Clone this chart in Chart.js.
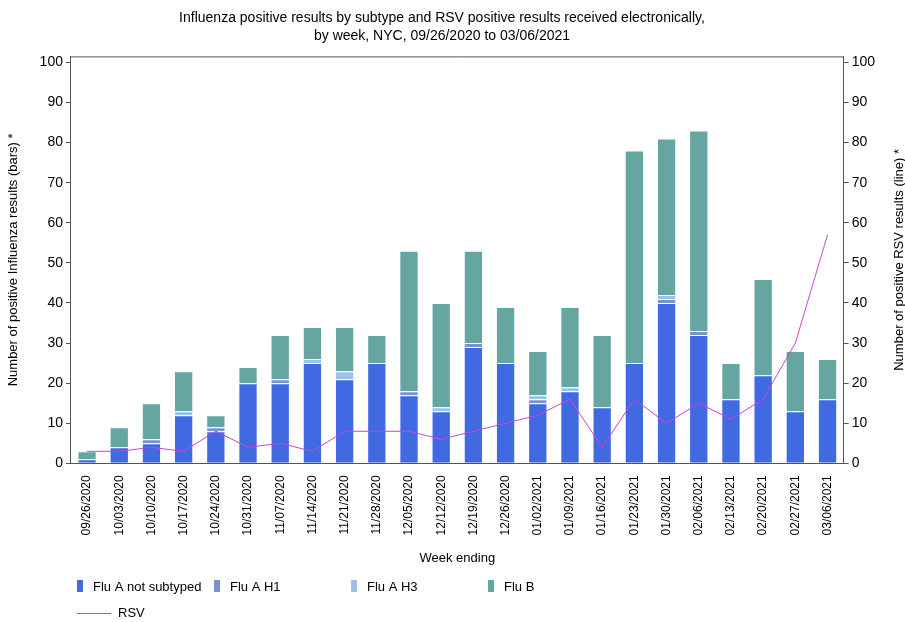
<!DOCTYPE html>
<html>
<head>
<meta charset="utf-8">
<script src="https://cdn.jsdelivr.net/npm/chart.js@4.4.1/dist/chart.umd.min.js"></script>
<style>
  html, body { margin: 0; padding: 0; background: #fff; }
  #wrap { position: relative; width: 905px; height: 622px; }
</style>
</head>
<body>
<div id="wrap"><canvas id="c"></canvas></div>
<script>
const weeks = ['09/26/2020','10/03/2020','10/10/2020','10/17/2020','10/24/2020','10/31/2020',
  '11/07/2020','11/14/2020','11/21/2020','11/28/2020','12/05/2020','12/12/2020',
  '12/19/2020','12/26/2020','01/02/2021','01/09/2021','01/16/2021','01/23/2021',
  '01/30/2021','02/06/2021','02/13/2021','02/20/2021','02/27/2021','03/06/2021'];
const fluANotSubtyped = [1,4,5,12,8,20,20,25,21,25,17,13,29,25,15,18,14,25,40,32,16,22,13,16];
const fluAH1 = [0,0,1,0,1,0,1,0,0,0,1,0,1,0,1,0,0,0,1,1,0,0,0,0];
const fluAH3 = [0,0,0,1,0,0,0,1,2,0,0,1,0,0,1,1,0,0,1,0,0,0,0,0];
const fluB = [2,5,9,10,3,4,11,8,11,7,35,26,23,14,11,20,18,53,39,50,9,24,15,10];
const rsv = [3,3,4,3,8,4,5,3,8,8,8,6,8,10,12,16,4,16,10,15,11,16,30,57];
const yTicks = [0,10,20,30,40,50,60,70,80,90,100];
const rightTitle = 'Number of positive RSV results (line) *';

const FONT = '"Liberation Sans", Arial, sans-serif';
const colors = {
  nos: '#4169E1', h1: '#7B93CC', h3: '#9CC2E6', b: '#66A6A0', rsv: '#CC44CC'
};
const edge = 'rgba(255,255,255,0.65)';

function barDs(label, data, color) {
  return { type: 'bar', label, data, backgroundColor: color, borderColor: edge,
    borderWidth: 1, stack: 'flu', yAxisID: 'y', order: 1,
    barPercentage: 0.6, categoryPercentage: 1.0 };
}

const framePlugin = {
  id: 'frame',
  afterDraw(chart) {
    const { ctx, chartArea } = chart;
    ctx.save();
    ctx.strokeStyle = '#555';
    ctx.lineWidth = 1;
    ctx.beginPath();
    ctx.moveTo(chartArea.left, chartArea.top + 0.5);
    ctx.lineTo(chartArea.right, chartArea.top + 0.5);
    ctx.stroke();
    // right axis title, reading bottom-to-top
    ctx.font = '13px ' + FONT;
    ctx.fillStyle = '#000';
    ctx.textAlign = 'center';
    ctx.textBaseline = 'middle';
    ctx.translate(899, (chartArea.top + chartArea.bottom) / 2);
    ctx.rotate(-Math.PI / 2);
    ctx.fillText(rightTitle, 0, 0);
    ctx.restore();
  }
};

const legendPlugin = {
  id: 'customLegend',
  afterDraw(chart) {
    const ctx = chart.ctx;
    ctx.save();
    ctx.font = '13px ' + FONT;
    ctx.fillStyle = '#000';
    ctx.textBaseline = 'middle';
    const ds = chart.data.datasets;
    let k = 0;
    ds.forEach((d) => {
      if (d.type === 'bar') {
        const x = 77 + k * 137, y = 586;
        ctx.fillStyle = d.backgroundColor;
        ctx.fillRect(x, y - 6, 6, 12);
        ctx.fillStyle = '#000';
        ctx.fillText(d.label, x + 16, y + 1);
        k++;
      }
    });
    ds.forEach((d) => {
      if (d.type === 'line') {
        const y = 613.5;
        ctx.strokeStyle = d.borderColor;
        ctx.lineWidth = 1;
        ctx.beginPath();
        ctx.moveTo(77, y);
        ctx.lineTo(111, y);
        ctx.stroke();
        ctx.fillStyle = '#000';
        ctx.fillText(d.label, 118, y);
      }
    });
    ctx.restore();
  }
};

const axisCommon = {
  min: 0, max: 101.5,
  afterBuildTicks(scale) { scale.ticks = yTicks.map(v => ({ value: v })); },
  ticks: { font: { size: 14, family: FONT }, color: '#000', padding: 3 },
  grid: { drawOnChartArea: false, tickLength: 5, color: '#555' },
  border: { color: '#555' }
};

new Chart(document.getElementById('c'), {
  data: {
    labels: weeks,
    datasets: [
      { type: 'line', label: 'RSV', data: rsv, borderColor: colors.rsv, backgroundColor: colors.rsv,
        borderWidth: 1, pointRadius: 0, tension: 0, yAxisID: 'y1', order: 0 },
      barDs('Flu A not subtyped', fluANotSubtyped, colors.nos),
      barDs('Flu A H1', fluAH1, colors.h1),
      barDs('Flu A H3', fluAH3, colors.h3),
      barDs('Flu B', fluB, colors.b)
    ]
  },
  options: {
    responsive: true,
    maintainAspectRatio: false,
    animation: false,
    layout: { padding: { left: 6, right: 27, top: 0, bottom: 56 } },
    plugins: {
      legend: { display: false },
      tooltip: { enabled: false },
      title: {
        display: true,
        text: ['Influenza positive results by subtype and RSV positive results received electronically,',
               'by week, NYC, 09/26/2020 to 03/06/2021'],
        font: { size: 14, weight: 'normal', family: FONT, lineHeight: 1.3 },
        color: '#000',
        padding: { top: 9, bottom: 11 }
      }
    },
    scales: {
      x: {
        stacked: true,
        grid: { display: false },
        border: { color: '#555' },
        ticks: { maxRotation: 90, minRotation: 90, autoSkip: false,
          font: { size: 12, family: FONT }, color: '#000', padding: 4 },
        title: { display: true, text: 'Week ending', font: { size: 13, family: FONT },
          color: '#000', padding: { top: 11, bottom: 0 } }
      },
      y: Object.assign({}, axisCommon, {
        position: 'left', stacked: true,
        title: { display: true, text: 'Number of positive Influenza results (bars) *',
          font: { size: 13, family: FONT }, color: '#000', padding: { top: 0, bottom: 15 } }
      }),
      y1: Object.assign({}, axisCommon, {
        position: 'right',
        title: { display: false }
      })
    }
  },
  plugins: [framePlugin, legendPlugin]
});
</script>
</body>
</html>
